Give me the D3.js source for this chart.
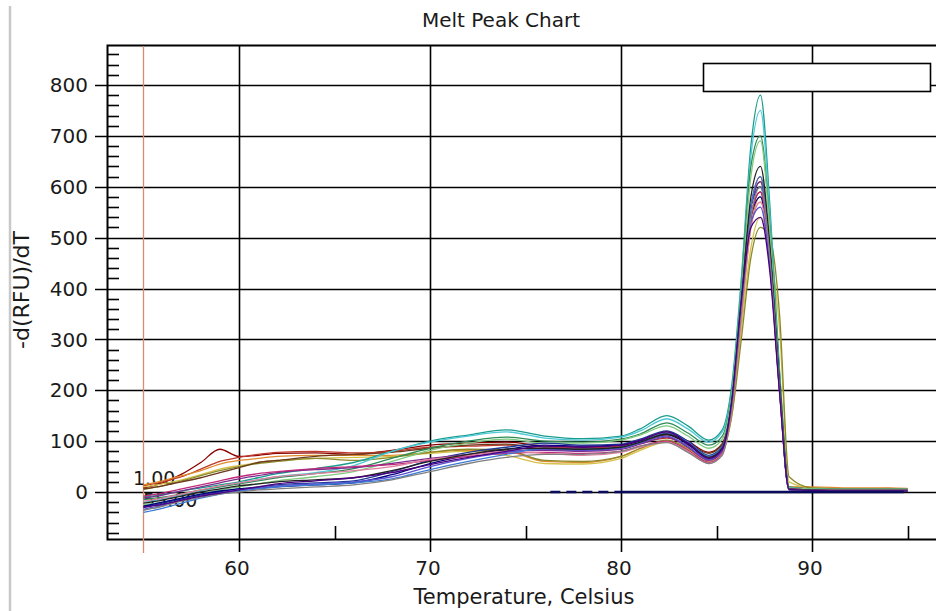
<!DOCTYPE html>
<html>
<head>
<meta charset="utf-8">
<script src="https://cdn.jsdelivr.net/npm/d3@7"></script>
<style>
  html, body { margin: 0; padding: 0; background: #ffffff; }
  svg { display: block; }
  text { font-family: "DejaVu Sans", Verdana, sans-serif; fill: #1a1a1a; }
</style>
</head>
<body>
<svg id="chart" width="936" height="611"></svg>
<script>
// ---------------- DATA ----------------
const title = "Melt Peak Chart";
const xTitle = "Temperature, Celsius";
const yTitle = "-d(RFU)/dT";
const xTickValues = [60, 70, 80, 90];
const xMinorTicks = [65, 75, 85, 95];
const yTickValues = [0, 100, 200, 300, 400, 500, 600, 700, 800];
const thresholdTemp = 55;
const markerLabels = ["1.00", "55.00"];

// sampled temperatures (Celsius)
const temps = [55, 56, 57, 58, 59, 60, 61, 62, 64, 66, 68, 70, 72, 74, 76, 78, 80, 81, 82.4, 83.5, 84.6, 85.3, 85.8, 86.3, 86.8, 87.3, 87.8, 88.3, 88.8, 90, 92, 94, 95];

// well curves, -d(RFU)/dT at each temperature above
const wellDarkRed  = [8, 18, 35, 58, 84, 70, 72, 76, 77, 74, 82, 92, 96, 98, 90, 88, 92, 100, 118, 100, 78, 95, 180, 370, 540, 590, 450, 210, 8, 6, 5, 6, 5];
const wellRed      = [12, 20, 30, 45, 60, 68, 74, 78, 80, 77, 80, 88, 90, 92, 88, 86, 90, 96, 106, 92, 70, 88, 170, 360, 560, 620, 470, 220, 10, 8, 6, 7, 6];
const wellOrange   = [14, 22, 32, 42, 55, 62, 66, 70, 72, 72, 72, 78, 82, 80, 60, 58, 70, 85, 100, 84, 62, 80, 160, 340, 520, 580, 460, 230, 10, 10, 8, 8, 7];
const wellYellow   = [10, 16, 24, 34, 45, 52, 58, 62, 66, 68, 70, 76, 80, 72, 56, 55, 66, 82, 98, 82, 60, 78, 150, 320, 480, 540, 480, 320, 20, 8, 6, 6, 5];
const wellOlive    = [5, 12, 22, 32, 42, 50, 56, 60, 66, 62, 68, 78, 84, 82, 62, 60, 70, 86, 102, 86, 64, 82, 150, 300, 460, 520, 500, 350, 30, 8, 6, 6, 5];
const wellBrown    = [6, 12, 20, 28, 38, 48, 58, 62, 70, 74, 78, 86, 92, 94, 84, 82, 88, 96, 112, 96, 76, 94, 175, 360, 560, 610, 480, 220, 8, 6, 5, 5, 5];
const wellTeal     = [-10, -5, 2, 8, 14, 20, 28, 36, 46, 58, 80, 100, 112, 122, 110, 105, 110, 124, 150, 130, 102, 122, 210, 420, 680, 780, 560, 240, 10, 6, 5, 5, 5];
const wellCyan     = [-20, -14, -6, 2, 10, 18, 24, 30, 38, 52, 80, 98, 110, 118, 106, 102, 108, 120, 144, 124, 98, 118, 200, 410, 660, 750, 540, 230, 8, 6, 5, 5, 5];
const wellGreen    = [-15, -10, -4, 4, 10, 16, 22, 28, 36, 46, 66, 86, 100, 108, 100, 98, 104, 114, 136, 116, 92, 110, 195, 400, 640, 700, 520, 230, 8, 6, 5, 5, 5];
const wellLtGreen  = [-25, -20, -12, -4, 4, 10, 16, 22, 30, 40, 60, 82, 96, 104, 96, 96, 102, 112, 130, 110, 86, 104, 190, 390, 620, 690, 510, 220, 8, 6, 5, 5, 5];
const wellBlue     = [-30, -22, -14, -6, 0, 6, 10, 14, 18, 22, 40, 62, 78, 88, 96, 92, 94, 104, 120, 100, 72, 90, 180, 380, 560, 600, 470, 210, 6, 4, 3, 3, 3];
const wellNavy     = [-28, -20, -12, -4, 2, 6, 8, 10, 14, 18, 34, 56, 72, 84, 92, 90, 92, 100, 114, 94, 66, 84, 175, 370, 540, 580, 450, 200, 4, 3, 2, 2, 2];
const wellPurple   = [-12, -6, 2, 10, 18, 26, 32, 38, 44, 48, 56, 66, 74, 80, 82, 80, 84, 94, 108, 88, 62, 80, 170, 360, 560, 610, 470, 210, 6, 4, 3, 3, 3];
const wellMagenta  = [-8, -2, 6, 14, 22, 30, 36, 40, 46, 50, 54, 62, 70, 76, 78, 76, 80, 90, 100, 82, 58, 76, 165, 350, 540, 590, 460, 205, 6, 4, 3, 3, 3];
const wellPink     = [-18, -12, -4, 4, 12, 18, 24, 30, 36, 42, 50, 64, 72, 80, 76, 72, 78, 88, 98, 80, 56, 74, 160, 340, 520, 570, 450, 200, 6, 4, 3, 3, 3];
const wellViolet   = [-34, -26, -16, -8, -2, 4, 8, 12, 16, 20, 30, 50, 66, 78, 84, 82, 86, 96, 110, 90, 64, 82, 172, 365, 530, 560, 440, 200, 5, 3, 2, 2, 2];
const wellLtBlue   = [-40, -32, -22, -12, -4, 2, 6, 10, 14, 18, 26, 44, 60, 74, 86, 84, 88, 98, 116, 98, 70, 88, 178, 372, 560, 620, 470, 210, 5, 3, 2, 2, 2];
const wellBlack    = [-22, -16, -8, 0, 6, 12, 16, 20, 24, 28, 42, 60, 74, 84, 86, 84, 88, 98, 114, 96, 68, 86, 176, 370, 580, 640, 480, 215, 6, 4, 3, 3, 3];
const wellGray     = [-36, -28, -18, -10, -4, 0, 4, 6, 10, 14, 24, 40, 56, 68, 74, 74, 80, 90, 97, 78, 56, 72, 168, 355, 540, 600, 460, 205, 5, 3, 2, 2, 2];
const wellIndigo   = [-30, -24, -16, -8, -2, 4, 10, 16, 22, 28, 38, 54, 68, 80, 90, 88, 92, 102, 118, 96, 66, 84, 178, 375, 520, 540, 430, 195, 5, 3, 2, 2, 2];

// no-template control, flat at zero
const ntcTemps  = [76.3, 80, 85, 90, 94.8];
const ntcValues = [0, 0, 0, 0, 0];

const wellColors = ["#8b0000", "#c0392b", "#e08a2e", "#d4c24a", "#8a8a2a", "#6b3a1e",
                    "#1a9c8c", "#4fc8d8", "#2e8b57", "#7fc97f", "#1f3a93", "#000080",
                    "#7b2d8e", "#c0287a", "#e07fa0", "#5a4fcf", "#3a7bd5", "#222222",
                    "#808080", "#4b0082"];
const wellSeries = [wellDarkRed, wellRed, wellOrange, wellYellow, wellOlive, wellBrown,
                    wellTeal, wellCyan, wellGreen, wellLtGreen, wellBlue, wellNavy,
                    wellPurple, wellMagenta, wellPink, wellViolet, wellLtBlue, wellBlack,
                    wellGray, wellIndigo];

// ---------------- CHART ----------------
const svg = d3.select("#chart");
const W = 936, H = 611;
const plot = { left: 107, top: 45, right: 945, bottom: 539 };

// scales: 60 -> 239px, 90 -> 812px ; 0 -> 492px, 800 -> 85px
const pxPerDeg = (812 - 239) / 30;
const x = d3.scaleLinear()
  .domain([60 - (239 - plot.left) / pxPerDeg, 60 + (plot.right - 239) / pxPerDeg])
  .range([plot.left, plot.right]);
const pxPerUnit = (492 - 85) / 800;
const y = d3.scaleLinear()
  .domain([-(plot.bottom - 492) / pxPerUnit, 800 + (85 - plot.top) / pxPerUnit])
  .range([plot.bottom, plot.top]);

svg.append("rect").attr("width", W).attr("height", H).attr("fill", "#ffffff");

// faint window border at left
svg.append("line").attr("x1", 10).attr("x2", 10).attr("y1", 6).attr("y2", H)
  .attr("stroke", "#c9c9c9").attr("stroke-width", 2.5);

// title
svg.append("text").attr("x", 501).attr("y", 27).attr("text-anchor", "middle")
  .style("font-size", "20px").text(title);

const clipId = "plotclip";
svg.append("clipPath").attr("id", clipId).append("rect")
  .attr("x", plot.left).attr("y", plot.top)
  .attr("width", plot.right - plot.left).attr("height", plot.bottom - plot.top);

// horizontal gridlines (extend left as major ticks)
const grid = svg.append("g").attr("stroke", "#000").attr("stroke-width", 1.6);
grid.selectAll("line.h").data(yTickValues).join("line")
  .attr("x1", plot.left - 12).attr("x2", plot.right)
  .attr("y1", d => Math.round(y(d)) + 0.5).attr("y2", d => Math.round(y(d)) + 0.5);

// vertical gridlines (extend below the axis as major ticks)
grid.selectAll("line.v").data(xTickValues).join("line")
  .attr("x1", d => Math.round(x(d)) + 0.5).attr("x2", d => Math.round(x(d)) + 0.5)
  .attr("y1", plot.top).attr("y2", plot.bottom + 13);

// minor y ticks (inside)
const yMinor = d3.range(-80, 880, 20).filter(v => v % 100 !== 0 && y(v) > plot.top + 2);
grid.selectAll("line.ym").data(yMinor).join("line")
  .attr("x1", plot.left).attr("x2", plot.left + 12)
  .attr("y1", d => Math.round(y(d)) + 0.5).attr("y2", d => Math.round(y(d)) + 0.5);

// minor x ticks (inside, up from the axis)
grid.selectAll("line.xm").data(xMinorTicks).join("line")
  .attr("x1", d => Math.round(x(d)) + 0.5).attr("x2", d => Math.round(x(d)) + 0.5)
  .attr("y1", plot.bottom).attr("y2", plot.bottom - 13);

// frame
svg.append("path")
  .attr("d", `M${plot.right},${plot.top + 0.5}H${plot.left + 0.5}V${plot.bottom + 0.5}H${plot.right}`)
  .attr("fill", "none").attr("stroke", "#000").attr("stroke-width", 2);

// threshold (start temperature) line
svg.append("line")
  .attr("x1", x(thresholdTemp)).attr("x2", x(thresholdTemp))
  .attr("y1", plot.top + 1).attr("y2", plot.bottom + 14)
  .attr("stroke", "#d98a70").attr("stroke-width", 1.3);

// tick labels
svg.append("g").selectAll("text").data(yTickValues).join("text")
  .attr("x", 88).attr("y", d => y(d)).attr("dy", "0.36em")
  .attr("text-anchor", "end").style("font-size", "20px").text(d => d);
svg.append("g").selectAll("text").data(xTickValues).join("text")
  .attr("x", d => x(d) - 2).attr("y", 575)
  .attr("text-anchor", "middle").style("font-size", "20px").text(d => d);

// axis titles
svg.append("text").attr("x", 524).attr("y", 604).attr("text-anchor", "middle")
  .style("font-size", "21px").text(xTitle);
svg.append("text").attr("transform", "translate(29,290) rotate(-90)")
  .attr("text-anchor", "middle").style("font-size", "22px").text(yTitle);

// marker labels at threshold
svg.append("text").attr("x", 133).attr("y", 485).style("font-size", "19px").text(markerLabels[0]);
svg.append("text").attr("x", 143).attr("y", 507).style("font-size", "19px").text(markerLabels[1]);

// curves
const line = d3.line()
  .x(d => x(d[0])).y(d => y(d[1]))
  .curve(d3.curveMonotoneX);

const curves = svg.append("g").attr("clip-path", `url(#${clipId})`);
curves.selectAll("path.well").data(wellSeries).join("path")
  .attr("class", "well")
  .attr("d", s => line(temps.map((t, i) => [t, s[i]])))
  .attr("fill", "none")
  .attr("stroke", (s, i) => wellColors[i])
  .attr("stroke-width", 1.3)
  .attr("stroke-linejoin", "round");

// NTC: dashed at start, then solid
const ntcPts = ntcTemps.map((t, i) => [t, ntcValues[i]]);
curves.append("path")
  .attr("d", d3.line().x(d => x(d[0])).y(d => y(d[1]))(ntcPts.slice(0, 2)))
  .attr("fill", "none").attr("stroke", "#0b0b5e").attr("stroke-width", 2.6)
  .attr("stroke-dasharray", "10,6");
curves.append("path")
  .attr("d", d3.line().x(d => x(d[0])).y(d => y(d[1]))(ntcPts.slice(1)))
  .attr("fill", "none").attr("stroke", "#0b0b5e").attr("stroke-width", 2.6);

// empty legend box
svg.append("rect").attr("x", 703.5).attr("y", 63.5).attr("width", 227).attr("height", 28)
  .attr("fill", "#ffffff").attr("stroke", "#000").attr("stroke-width", 1.6);
</script>
</body>
</html>
